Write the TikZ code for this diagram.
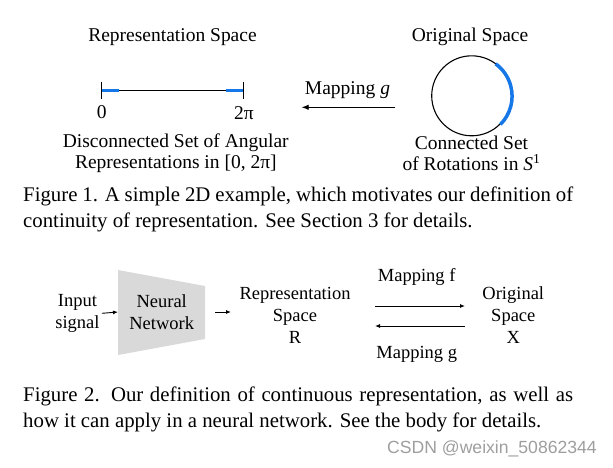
\documentclass[tikz,border=0pt]{standalone}
\usepackage{fontspec}
\setmainfont{Liberation Serif}
\newfontfamily\marksans{Liberation Sans}
\usetikzlibrary{arrows.meta,calc,positioning}
\definecolor{arcblue}{RGB}{22,120,232}
\definecolor{netgray}{RGB}{217,217,217}

\begin{document}
\begin{tikzpicture}[x=1pt,y=-1pt,
  lbl/.style={font=\fontsize{19.5}{21}\selectfont,align=center,inner sep=0pt},
  lbltwo/.style={font=\fontsize{18.5}{22}\selectfont,align=center,inner sep=0pt},
  figcap/.style={font=\fontsize{20.8}{25.8}\selectfont,text width=550pt,align=justify,anchor=base west,inner sep=0pt},
  seg/.style={arcblue,line width=3.5pt},
  maparrow/.style={-{Latex[length=7pt,width=5.5pt]},line width=.9pt},
  feed/.style={-{Latex[length=5pt,width=4pt]},line width=.9pt}
]
\useasboundingbox (0,0) rectangle (613,467);

% Figure 1: representation space and the circle
\node[lbl] (reptitle) at (172.5,36.7) {Representation Space};
\coordinate (lo) at (101.7,90.7);
\coordinate (hi) at (243.3,90.7);
\draw[line width=.9pt] (lo) -- (hi);
\draw[seg] (lo) -- ++(17.6,0);
\draw[seg] (hi) -- ++(-17.3,0);
\foreach \c in {lo,hi}
  \draw[line width=1.2pt] ($(\c)+(0,-9)$) -- ($(\c)+(0,8)$);
\node[lbl] (zero) at (101.7,112) {0};
\node[lbl] (twopi) at (244,113) {2π};
\node[lbl] (discon) at (175.8,153) {Disconnected Set of Angular\\Representations in [0, 2π]};

\node[lbl] (origtitle) at (470,36.7) {Original Space};
\node[circle,draw,line width=1.1pt,minimum size=80pt,inner sep=0pt] (rot) at (471.7,95.8) {};
\draw[seg] (rot.-45) arc[start angle=-45,end angle=54,radius=40pt];
\node[lbl] (conn) at (471.5,153.5) {Connected Set\\of Rotations in \textit{S}\textsuperscript{1}};

\node[lbl] (mapg) at (347.5,90) {Mapping \textit{g}};
\coordinate (gfrom) at (395,107.3);
\coordinate (gto) at (301.7,107.3);
\draw[maparrow] (gfrom) -- (gto);

\node[figcap] (capone) at (23,201.7) {Figure 1. A simple 2D example, which motivates our definition of
continuity of representation. See Section 3 for details.};

% Figure 2: network and the two mappings
\node[lbltwo] (input) at (77.5,313.3) {Input\\signal};
\fill[netgray] (118,270) -- (205,286) -- (205,339) -- (118,355) -- cycle;
\node[lbltwo] (net) at (161.7,312.5) {Neural\\Network};
\coordinate (netin) at (118,312);
\coordinate (netout) at (205,312);
\draw[feed] (input.east) ++(2,0) -- (netin);
\draw[feed] (netout) ++(10,0) -- ++(16,0);
\node[lbltwo] (rep) at (295,315) {Representation\\Space\\R};
\node[lbltwo] (orig) at (513.3,315) {Original\\Space\\X};
\node[lbltwo] (mapf) at (416.7,276.7) {Mapping f};
\node[lbltwo] (mapgg) at (416.7,354) {Mapping g};
\coordinate (fl) at (375,306);
\coordinate (fr) at (465,306);
\coordinate (gl) at (375,326);
\coordinate (gr) at (465,326);
\draw[feed] (fl) -- (fr);
\draw[feed] (gr) -- (gl);

\node[figcap] (captwo) at (23,401.7) {Figure 2. Our definition of continuous representation, as well as
how it can apply in a neural network. See the body for details.};

\node[anchor=base east,inner sep=0pt,text=black!38,font=\marksans\fontsize{17.6}{17.6}\selectfont] (mark) at (597,453) {CSDN @weixin\_50862344};
\end{tikzpicture}
\end{document}
